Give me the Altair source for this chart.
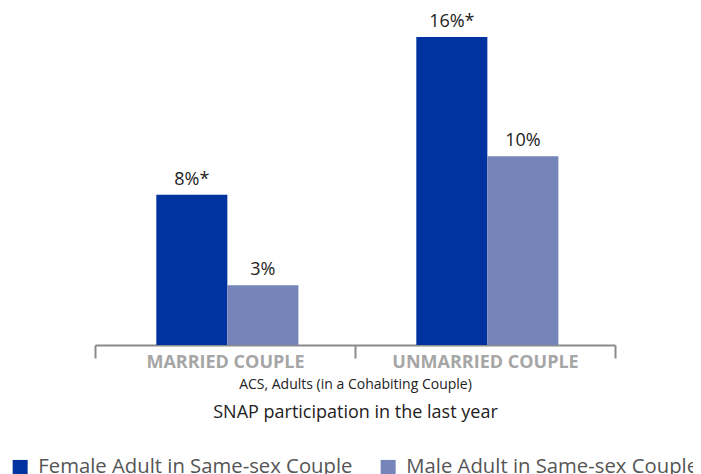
import altair as alt
import pandas as pd

groups = ["MARRIED COUPLE", "MARRIED COUPLE", "UNMARRIED COUPLE", "UNMARRIED COUPLE"]
series = ["Female Adult in Same-sex Couple", "Male Adult in Same-sex Couple",
          "Female Adult in Same-sex Couple", "Male Adult in Same-sex Couple"]
values = [7.8, 3.1, 16.0, 9.8]
labels = ["8%*", "3%", "16%*", "10%"]

df = pd.DataFrame({"group": groups, "series": series, "value": values, "label": labels})

series_order = ["Female Adult in Same-sex Couple", "Male Adult in Same-sex Couple"]
colors = ["#0033A0", "#7585BA"]
FONT = "Open Sans"

xscale = alt.Scale(paddingInner=0, paddingOuter=0)
x1 = alt.X("group:N", sort=["MARRIED COUPLE", "UNMARRIED COUPLE"], scale=xscale,
           axis=alt.Axis(orient="bottom", title="ACS, Adults (in a Cohabiting Couple)",
                         labelAngle=0, labelLimit=300,
                         tickBand="extent", domainColor="#8a8a8a", domainWidth=2,
                         tickColor="#8a8a8a", tickWidth=2, tickSize=13,
                         labelColor="#a6a6a6", labelFontWeight="bold", labelFont=FONT,
                         labelFontSize=18, labelPadding=-5,
                         titleFont=FONT, titleFontSize=14, titleFontWeight="normal",
                         titleColor="#222222", titlePadding=6))
x2 = alt.X("group:N", sort=["MARRIED COUPLE", "UNMARRIED COUPLE"], scale=xscale,
           axis=alt.Axis(orient="bottom", title="SNAP participation in the last year",
                         labels=False, ticks=False, domain=False, offset=50,
                         titleFont=FONT, titleFontSize=18, titleFontWeight="normal",
                         titleColor="#222222", titlePadding=8))
xo = alt.XOffset("series:N", sort=series_order,
                 scale=alt.Scale(paddingInner=0, paddingOuter=0.83, align=0.52))
y = alt.Y("value:Q", scale=alt.Scale(domain=[0, 16], nice=False), axis=None)

bars = alt.Chart(df).mark_bar().encode(
    x=x1, xOffset=xo, y=y,
    color=alt.Color("series:N", sort=series_order,
                    scale=alt.Scale(domain=series_order, range=colors),
                    legend=alt.Legend(title=None, orient="none", direction="horizontal",
                                      legendX=-85, legendY=420, symbolType="square",
                                      symbolSize=225, symbolStrokeWidth=0,
                                      labelFont=FONT, labelFontSize=20.3, labelOffset=8,
                                      labelColor="#555555", columnPadding=25,
                                      labelLimit=400, symbolOpacity=1)),
)

text = alt.Chart(df).mark_text(dy=-15, fontSize=18, font=FONT, color="#222222").encode(
    x=x2, xOffset=xo, y=y, text="label:N"
)

chart = (bars + text).resolve_axis(x="independent").properties(
    width=520, height=308,
    autosize=alt.AutoSizeParams(type="none"),
    padding={"left": 87, "top": 29, "right": 78, "bottom": 140},
).configure_view(stroke=None)

chart.save("out.html", embed_options={"renderer": "svg", "actions": False})
